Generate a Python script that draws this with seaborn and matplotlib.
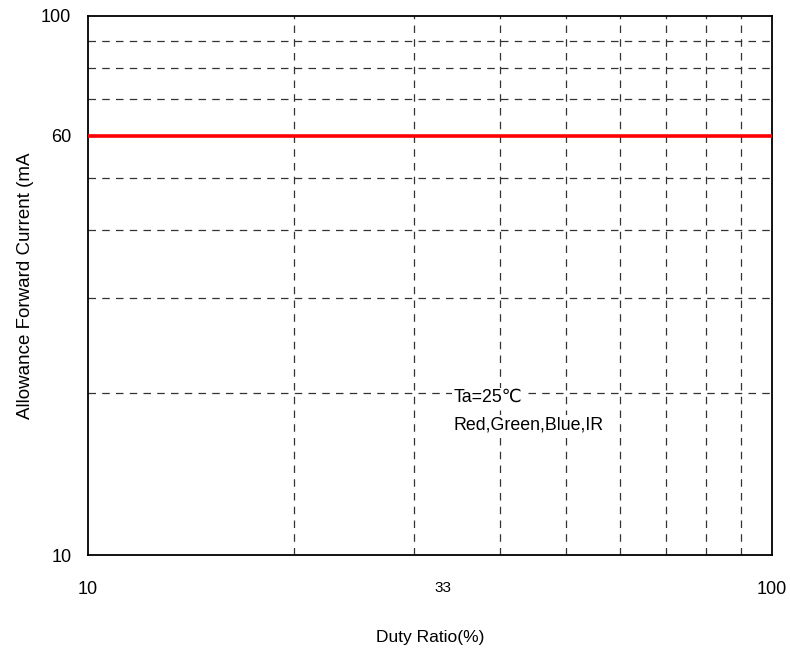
import matplotlib
matplotlib.use("Agg")
import matplotlib.pyplot as plt
import seaborn as sns
import pandas as pd
from matplotlib.ticker import NullFormatter, NullLocator, FixedLocator

duty = [10, 100]
current = [60, 60]
x_ticks = [10, 33, 100]
x_tick_labels = ["10", "33", "100"]
y_ticks = [10, 60, 100]
y_tick_labels = ["10", "60", "100"]
grid_vals = [20, 30, 40, 50, 60, 70, 80, 90]

sns.set_style("white")
plt.rcParams['font.family'] = ['Liberation Sans', 'DejaVu Sans']
plt.rcParams['text.color'] = 'black'
plt.rcParams['axes.labelcolor'] = 'black'
plt.rcParams['xtick.color'] = 'black'
plt.rcParams['ytick.color'] = 'black'

fig = plt.figure(figsize=(7.9, 6.52), dpi=100)
ax = fig.add_axes([88/790, 97/652, (772-88)/790, (555-16)/652])

df = pd.DataFrame({"duty": duty, "current": current})
ax.set_xscale("log")
ax.set_yscale("log")
ax.set_xlim(10, 100)
ax.set_ylim(10, 100)

for g in grid_vals:
    ax.axvline(g, color="#333333", lw=0.9, ls=(0, (6, 5)), zorder=1)
    if g != 60:
        ax.axhline(g, color="#333333", lw=0.9, ls=(0, (6, 5)), zorder=1)

sns.lineplot(data=df, x="duty", y="current", ax=ax, color="#ff0000", lw=2.6, zorder=3)

ax.xaxis.set_major_locator(FixedLocator(x_ticks))
ax.xaxis.set_minor_locator(NullLocator())
ax.yaxis.set_major_locator(FixedLocator(y_ticks))
ax.yaxis.set_minor_locator(NullLocator())
ax.set_xticklabels(x_tick_labels)
ax.set_yticklabels(y_tick_labels)
ax.xaxis.set_minor_formatter(NullFormatter())
ax.yaxis.set_minor_formatter(NullFormatter())
ax.tick_params(axis="x", length=0, pad=19, labelsize=13, labelcolor="black")
ax.tick_params(axis="y", length=0, pad=12, labelsize=13, labelcolor="black")
for lbl in ax.get_xticklabels():
    if lbl.get_text() == "33":
        lbl.set_fontsize(11)

for s in ax.spines.values():
    s.set_color("black")
    s.set_linewidth(1.3)
    s.set_visible(True)

ax.set_xlabel("Duty Ratio(%)", fontsize=12.5, labelpad=23, color="black")
ax.set_ylabel("Allowance Forward Current (mA", fontsize=13.5, labelpad=5, color="black")

ax.text(34.2, 19.6, "Ta=25℃", fontsize=12.8, va="center", ha="left", color="black",
        bbox=dict(facecolor="white", edgecolor="none", pad=1))
ax.text(34.2, 17.4, "Red,Green,Blue,IR", fontsize=12.8, va="center", ha="left", color="black",
        bbox=dict(facecolor="white", edgecolor="none", pad=1))

fig.savefig("out.png", dpi=100, facecolor="white")
